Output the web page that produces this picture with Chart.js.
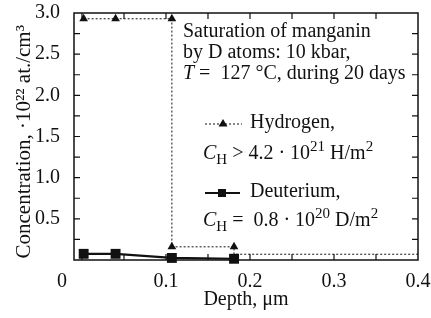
<!DOCTYPE html>
<html>
<head>
<meta charset="utf-8">
<script src="https://cdn.jsdelivr.net/npm/chart.js@4.4.1/dist/chart.umd.min.js"></script>
<style>
  html, body { margin: 0; padding: 0; background: #fff; }
  #wrap { width: 431px; height: 318px; }
</style>
</head>
<body>
<div id="wrap"><canvas id="depthChart" width="431" height="318"></canvas></div>
<script>
// Hydrogen / deuterium depth profiles in manganin

const hydrogenLabel  = "Hydrogen,";
const deuteriumLabel = "Deuterium,";

// depth, um  /  concentration, 10^22 at./cm^3
const hydrogenDepth = [0.002, 0.04, 0.107, 0.107, 0.181, 0.181, 0.4];
const hydrogenConc  = [2.93, 2.93, 2.93, 0.16, 0.16, 0.07, 0.07];
const hydrogenMarks = [true, true, true, true, true, false, false];

const deuteriumDepth = [0.002, 0.04, 0.107, 0.181];
const deuteriumConc  = [0.075, 0.075, 0.025, 0.015];

const xTicks = [0, 0.05, 0.1, 0.15, 0.2, 0.25, 0.3, 0.35, 0.4];
const xLabelTicks = [0, 0.1, 0.2, 0.3, 0.4];
const yTicks = [0, 0.25, 0.5, 0.75, 1.0, 1.25, 1.5, 1.75, 2.0, 2.25, 2.5, 2.75, 3.0];
const yLabelTicks = [0.5, 1.0, 1.5, 2.0, 2.5, 3.0];

const SERIF = "'Liberation Serif', 'Times New Roman', serif";
const INK = "#111";
const FS = 20;

const toPoints = (xs, ys) => xs.map((x, i) => ({ x, y: ys[i] }));

// box around the plot + inward tick marks on all four sides
const frameTicks = {
    id: "frameTicks",
    afterDraw(chart) {
        const { ctx, chartArea: a, scales } = chart;
        const len = 6;
        ctx.save();
        ctx.strokeStyle = INK;
        ctx.lineWidth = 1.5;
        ctx.strokeRect(a.left, a.top, a.right - a.left, a.bottom - a.top);
        ctx.lineWidth = 1.2;
        ctx.beginPath();
        xTicks.forEach(v => {
            const px = scales.x.getPixelForValue(v);
            if (px >= a.right - 1) return;
            ctx.moveTo(px, a.bottom); ctx.lineTo(px, a.bottom - len);
            ctx.moveTo(px, a.top);    ctx.lineTo(px, a.top + len);
        });
        yTicks.forEach(v => {
            const py = scales.y.getPixelForValue(v);
            if (py <= a.top + 1 || py >= a.bottom - 1) return;
            ctx.moveTo(a.left, py);  ctx.lineTo(a.left + len, py);
            ctx.moveTo(a.right, py); ctx.lineTo(a.right - len, py);
        });
        ctx.stroke();
        ctx.restore();
    }
};

// rich text: italics, sub- and superscripts
function drawRich(ctx, x, y, parts) {
    let cx = x;
    parts.forEach(p => {
        const size = p.sub || p.sup ? 15 : FS;
        ctx.font = (p.i ? "italic " : "") + size + "px " + SERIF;
        const dy = p.sub ? 6 : p.sup ? -7 : 0;
        ctx.fillText(p.t, cx, y + dy);
        cx += ctx.measureText(p.t).width;
    });
}

const notes = {
    id: "notes",
    afterDraw(chart) {
        const { ctx } = chart;
        ctx.save();
        ctx.fillStyle = INK;
        ctx.strokeStyle = INK;
        ctx.textBaseline = "middle";
        ctx.textAlign = "left";

        drawRich(ctx, 183, 32, [{ t: "Saturation of manganin" }]);
        drawRich(ctx, 183, 53, [{ t: "by D atoms: 10 kbar," }]);
        drawRich(ctx, 183, 74, [{ t: "T", i: true }, { t: " =  127 °C, during 20 days" }]);

        // hydrogen legend entry
        ctx.lineWidth = 1;
        ctx.setLineDash([2, 2]);
        ctx.beginPath(); ctx.moveTo(205, 124); ctx.lineTo(242, 124); ctx.stroke();
        ctx.setLineDash([]);
        ctx.beginPath();
        ctx.moveTo(223, 119); ctx.lineTo(227.5, 126.5); ctx.lineTo(218.5, 126.5); ctx.closePath();
        ctx.fill();
        drawRich(ctx, 250, 123, [{ t: hydrogenLabel }]);
        drawRich(ctx, 203, 154, [
            { t: "C", i: true }, { t: "H", sub: true },
            { t: " > 4.2 · 10" }, { t: "21", sup: true }, { t: " H/m" }, { t: "2", sup: true }
        ]);

        // deuterium legend entry
        ctx.lineWidth = 2;
        ctx.beginPath(); ctx.moveTo(205, 193); ctx.lineTo(240, 193); ctx.stroke();
        ctx.fillRect(218, 189, 8, 8);
        drawRich(ctx, 250, 192, [{ t: deuteriumLabel }]);
        drawRich(ctx, 203, 221, [
            { t: "C", i: true }, { t: "H", sub: true },
            { t: " =  0.8 · 10" }, { t: "20", sup: true }, { t: " D/m" }, { t: "2", sup: true }
        ]);
        ctx.restore();
    }
};

new Chart(document.getElementById("depthChart"), {
    type: "scatter",
    data: {
        datasets: [
            {
                label: hydrogenLabel,
                data: toPoints(hydrogenDepth, hydrogenConc),
                showLine: true,
                borderColor: INK,
                backgroundColor: INK,
                borderWidth: 1,
                borderDash: [2, 2],
                pointStyle: "triangle",
                pointRadius: hydrogenMarks.map(m => (m ? 5 : 0)),
                pointBorderWidth: 0,
                clip: false,
            },
            {
                label: deuteriumLabel,
                data: toPoints(deuteriumDepth, deuteriumConc),
                showLine: true,
                borderColor: INK,
                backgroundColor: INK,
                borderWidth: 2.2,
                pointStyle: "rect",
                pointRadius: 7,
                pointBorderWidth: 0,
                clip: false,
            },
        ],
    },
    options: {
        responsive: false,
        animation: false,
        layout: { padding: { left: 0, right: 13, top: 13, bottom: 0 } },
        plugins: { legend: { display: false }, tooltip: { enabled: false } },
        scales: {
            x: {
                type: "linear",
                min: -0.0095,
                max: 0.4,
                afterFit(s) { s.height = 58; s.paddingLeft = 0; s.paddingRight = 0; },
                afterBuildTicks(s) { s.ticks = xLabelTicks.map(v => ({ value: v })); },
                grid: { display: false },
                border: { display: false },
                ticks: {
                    color: INK,
                    padding: 2,
                    font: { family: SERIF, size: FS },
                    maxRotation: 0,
                    autoSkip: false,
                    callback: v => (v === 0 ? "0" + "\u00a0".repeat(8) : String(v)),
                },
                title: {
                    display: true,
                    text: "Depth, μm",
                    color: INK,
                    font: { family: SERIF, size: FS },
                    padding: { top: 0, bottom: 6 },
                },
            },
            y: {
                min: 0,
                max: 3.0,
                afterFit(s) { s.width = 74; s.paddingTop = 0; s.paddingBottom = 0; },
                afterBuildTicks(s) { s.ticks = yLabelTicks.map(v => ({ value: v })); },
                grid: { display: false },
                border: { display: false },
                ticks: {
                    color: INK,
                    padding: 6,
                    font: { family: SERIF, size: FS },
                    autoSkip: false,
                    callback: v => Number(v).toFixed(1),
                },
                title: {
                    display: true,
                    text: "Concentration, ·10²² at./cm³\u00a0\u00a0",
                    color: INK,
                    font: { family: SERIF, size: 21 },
                    padding: { top: 12, bottom: 0 },
                },
            },
        },
    },
    plugins: [frameTicks, notes],
});
</script>
</body>
</html>
